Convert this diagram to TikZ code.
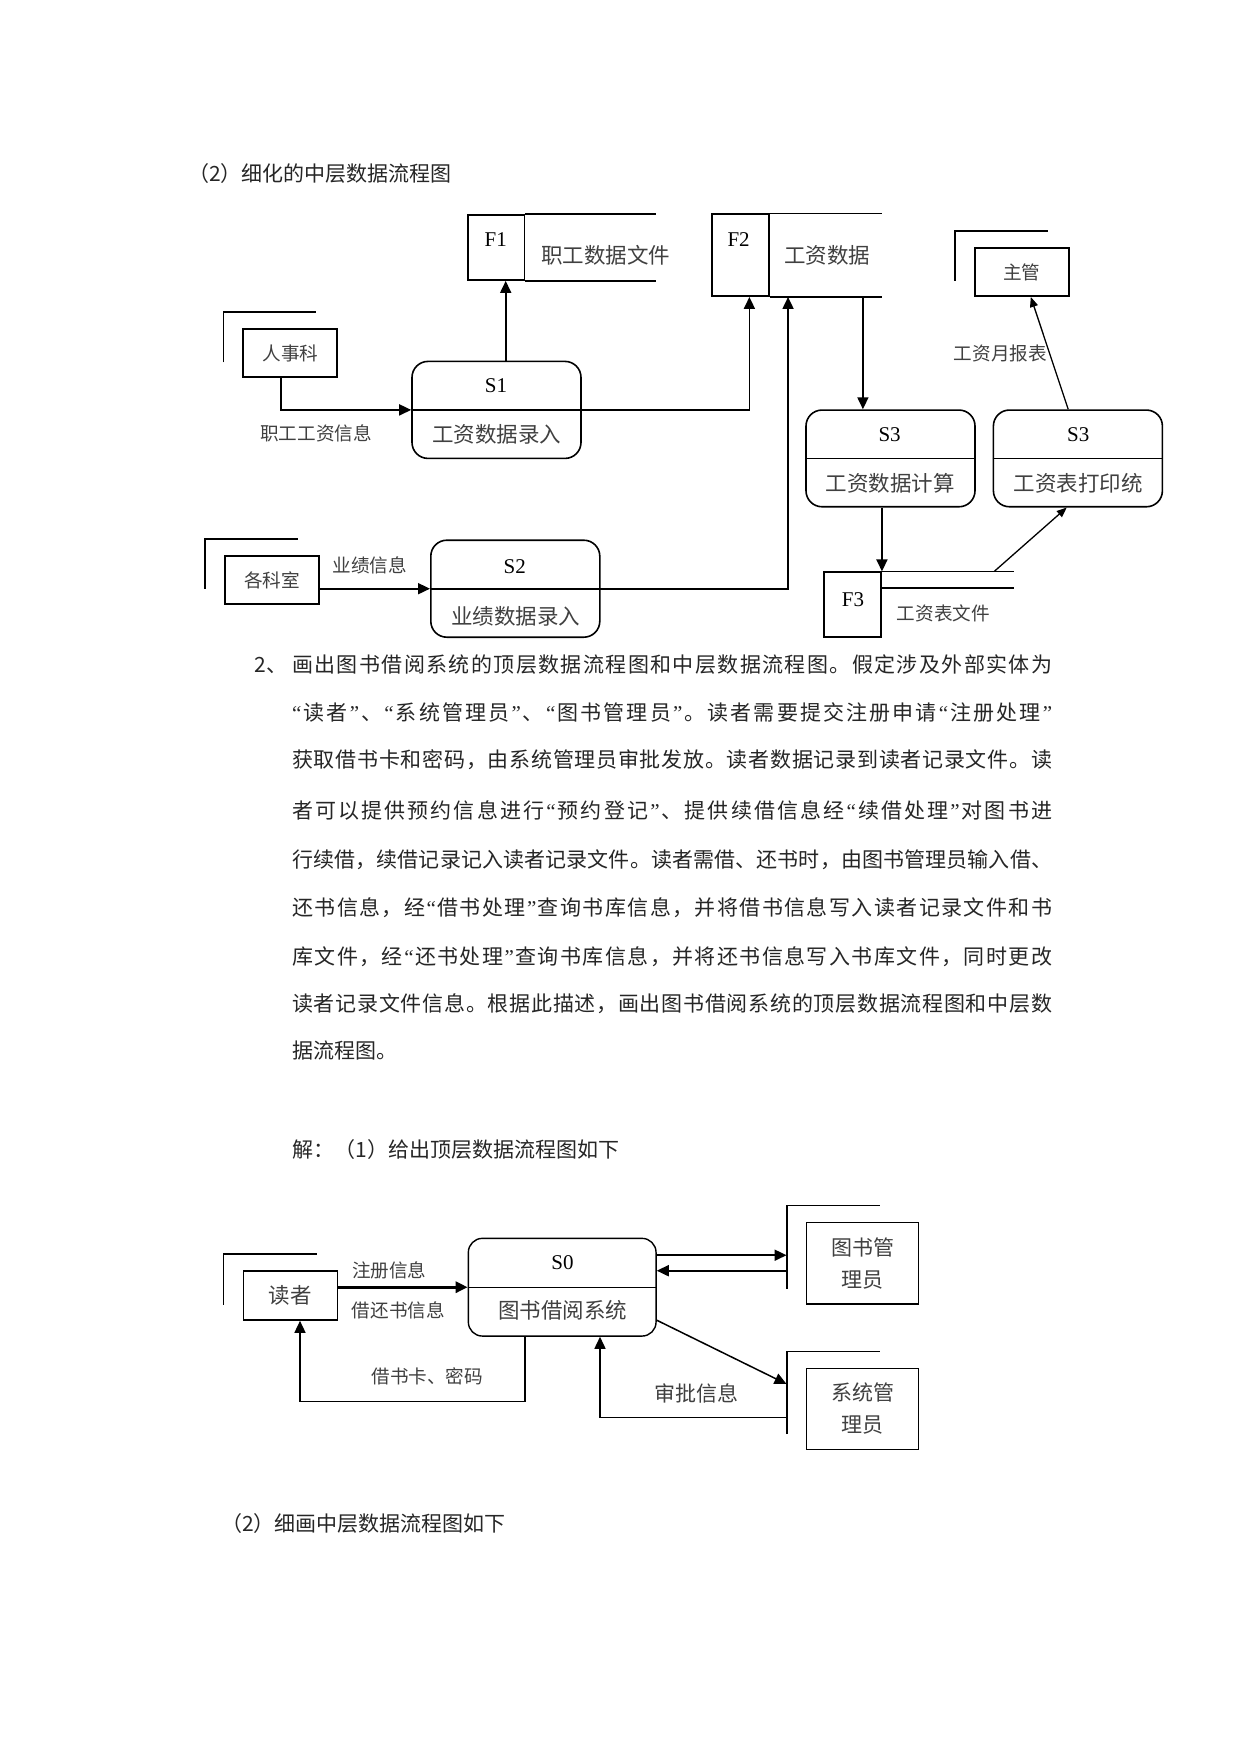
\documentclass[tikz,border=0pt]{standalone}
\usepackage{fontspec}
\setmainfont{Noto Sans CJK SC}
\newfontfamily\romfont{Liberation Serif}
\usetikzlibrary{arrows.meta, positioning, calc}
\newcommand{\dfdbody}{\fontsize{21pt}{25pt}\selectfont}
\newcommand{\dfdbig}{\fontsize{21.5pt}{26pt}\selectfont}
\newcommand{\dfdsmall}{\fontsize{18.6pt}{22pt}\selectfont}
\newcommand{\dfdtwo}{\fontsize{21pt}{31.7pt}\selectfont}
\newcommand{\dfdnum}{\romfont\fontsize{21pt}{25pt}\selectfont}
\newcommand{\qopen}{{\romfont “}}
\newcommand{\qclose}{{\romfont ”}}
% one justified text line: equal glue between all characters
\makeatletter
\newcommand{\spreadline}[1]{\makebox[760pt][s]{\@tfor\dfdc:=#1\do{\dfdc\hskip 0pt plus 1fil}\unskip}}
\makeatother

\begin{document}
\begin{tikzpicture}[x=1pt, y=-1pt,
    proc/.style={draw, rounded corners=16pt, line width=1.6pt, minimum width=169pt, minimum height=97pt, inner sep=0pt},
    store/.style={draw, line width=1.8pt, minimum width=56.5pt, inner sep=0pt},
    ent/.style={draw, line width=1.8pt, minimum width=94pt, minimum height=48.3pt, inner sep=0pt, align=center, font=\dfdsmall, text=black!75},
    shade/.style={line width=1.6pt},
    flow/.style={line width=1.8pt, -{Triangle[length=12pt,width=11pt]}},
    thinflow/.style={line width=1.3pt, -{Triangle[length=10pt,width=8pt]}},
    lbl/.style={font=\dfdsmall, text=black!75, inner sep=0pt},
    big/.style={font=\dfdbig, text=black!75, inner sep=0pt},
    num/.style={font=\dfdnum, inner sep=0pt},
    bodyline/.style={font=\dfdbody, anchor=west, inner sep=0pt, text=black!85}]
    \path[fill=white, use as bounding box] (0,0) rectangle (1241,1754);
    % headings
    \node[bodyline] (h1) at (188,174) {（2）细化的中层数据流程图};
    \node[bodyline] (h2) at (292.7,1149.3) {解：（1）给出顶层数据流程图如下};
    \node[bodyline] (h3) at (221,1523.3) {（2）细画中层数据流程图如下};
    % task text
    \node[bodyline] (p0) at (254.6,665) {2、};
    \node[bodyline] (p1) at (292,665) {\spreadline{画出图书借阅系统的顶层数据流程图和中层数据流程图。假定涉及外部实体为}};
    \node[bodyline] (p2) at (292,712) {\spreadline{\qopen 读者\qclose 、\qopen 系统管理员\qclose 、\qopen 图书管理员\qclose 。读者需要提交注册申请\qopen 注册处理\qclose}};
    \node[bodyline] (p3) at (292,760) {\spreadline{获取借书卡和密码，由系统管理员审批发放。读者数据记录到读者记录文件。读}};
    \node[bodyline] (p4) at (292,810) {\spreadline{者可以提供预约信息进行\qopen 预约登记\qclose 、提供续借信息经\qopen 续借处理\qclose 对图书进}};
    \node[bodyline] (p5) at (292,860) {\spreadline{行续借，续借记录记入读者记录文件。读者需借、还书时，由图书管理员输入借、}};
    \node[bodyline] (p6) at (292,908) {\spreadline{还书信息，经\qopen 借书处理\qclose 查询书库信息，并将借书信息写入读者记录文件和书}};
    \node[bodyline] (p7) at (292,957) {\spreadline{库文件，经\qopen 还书处理\qclose 查询书库信息，并将还书信息写入书库文件，同时更改}};
    \node[bodyline] (p8) at (292,1004) {\spreadline{读者记录文件信息。根据此描述，画出图书借阅系统的顶层数据流程图和中层数}};
    \node[bodyline] (p9) at (292,1051) {据流程图。};

    % external entities
    \node[ent] (rsk) at (290.3,353.2) {人事科};
    \node[ent, minimum width=94.7pt] (gks) at (272,579.9) {各科室};
    \node[ent] (zg) at (1021.8,271.9) {主管};
    \node[ent, font=\dfdbig, minimum height=49.3pt, line width=1.5pt] (dz) at (290.3,1295.4) {读者};
    \node[ent, font=\dfdtwo, minimum width=111.6pt, minimum height=81.7pt, line width=1.5pt] (tsg) at (862.5,1263.2) {图书管\\理员};
    \node[ent, font=\dfdtwo, minimum width=111.6pt, minimum height=81pt, line width=1.5pt] (xtg) at (862.5,1408.8) {系统管\\理员};
    \foreach \e in {rsk,gks,zg}
      \draw[shade] ([shift={(-19pt,16pt)}]\e.south west) |- ([shift={(74pt,16pt)}]\e.north west);
    \foreach \e in {dz,tsg,xtg}
      \draw[shade, line width=1.2pt] ([shift={(-19pt,16pt)}]\e.south west) |- ([shift={(74pt,16pt)}]\e.north west);

    % data stores
    \node[store, minimum height=65pt] (f1) at (496.2,247.5) {};
    \node[store, minimum height=81.7pt] (f2) at (740.4,255.2) {};
    \node[store, minimum height=65pt, minimum width=56.7pt] (f3) at (852.7,604.8) {};
    \draw[line width=1.8pt] (f1.north east) -- ++(131,0) (f1.south east) -- ++(131,0);
    \draw[line width=1.8pt] (f2.north east) -- ++(112.1,0) (f2.south east) -- ++(112.1,0);
    \draw[line width=1.8pt] (f3.north east) -- ++(132.3,0) ([yshift=-16.7pt]f3.north east) -- ++(132.3,0);
    \node[num] (f1id) at (495.8,240) {F1};
    \node[big] (f1txt) at (605.8,255) {职工数据文件};
    \node[num] (f2id) at (738.6,240) {F2};
    \node[big] (f2txt) at (827,255) {工资数据};
    \node[num] (f3id) at (853,600) {F3};
    \node[lbl] (f3txt) at (943.3,613.3) {工资表文件};

    % processes
    \node[proc] (s1) at (496.5,409.9) {};
    \node[proc] (s2) at (515.3,588.7) {};
    \node[proc, minimum height=96.7pt] (s3c) at (890.5,458.4) {};
    \node[proc, minimum height=96.7pt] (s3p) at (1077.9,458.4) {};
    \node[proc, minimum width=187.7pt, minimum height=97.7pt, rounded corners=14pt, line width=1.4pt] (s0) at (562.2,1287.2) {};
    \foreach \p in {s1,s2,s3c,s3p}
      \draw[line width=1.6pt] (\p.west) -- (\p.east);
    \draw[line width=1.4pt] (s0.west) -- (s0.east);
    \node[num] (s1id) at (496,386) {S1};
    \node[big] (s1txt) at (496.7,434) {工资数据录入};
    \node[num] (s2id) at (514.8,566.7) {S2};
    \node[big] (s2txt) at (515.7,616) {业绩数据录入};
    \node[num] (s3cid) at (889.6,435) {S3};
    \node[big] (s3ctxt) at (890.4,483.3) {工资数据计算};
    \node[num] (s3pid) at (1078.2,435) {S3};
    \node[big] (s3ptxt) at (1078,483.3) {工资表打印统};
    \node[num] (s0id) at (562.5,1262.5) {S0};
    \node[big] (s0txt) at (562.7,1310.7) {图书借阅系统};

    % flows, middle level
    \draw[flow] ([xshift=-9.3pt]rsk.south) |- (s1.west);
    \draw[flow] ([xshift=9.2pt]s1.north) -- ([xshift=9.2pt]s1.north |- f1.south);
    \draw[flow] (s1.east) -| ([xshift=9pt]f2.south);
    \draw[flow] (gks.east |- s2.west) -- (s2.west);
    \draw[flow] (s2.east) -| ([xshift=18.5pt]f2.south east);
    \draw[flow] ([xshift=-27.6pt]s3c.north |- f2.south) -- ([xshift=-27.6pt]s3c.north);
    \draw[flow] (f3.north east |- s3c.south) -- (f3.north east);
    \coordinate (f3out) at ([xshift=112.3pt]f3.north east);
    \draw[thinflow] (f3out) -- ([xshift=-11.2pt]s3p.south);
    \draw[thinflow] ([xshift=-9.7pt]s3p.north) -- ([xshift=9pt]zg.south);
    \node[lbl] (l1) at (316,433) {职工工资信息};
    \node[lbl] (l2) at (369.7,565) {业绩信息};
    \node[lbl] (l3) at (1000.4,353.3) {工资月报表};

    % flows, top level
    \coordinate (tsgl) at ([xshift=-19.4pt]tsg.west);
    \coordinate (xtgl) at ([xshift=-19.4pt]xtg.west);
    \draw[flow, line width=3.2pt] (s0.west -| dz.east) -- (s0.west);
    \draw[flow, line width=1.5pt] ([xshift=-37.2pt]s0.south) -- ++(0,64.7) -| ([xshift=9.7pt]dz.south);
    \draw[flow] ([yshift=32pt]s0.east) -- ([yshift=32pt]s0.east -| tsgl);
    \draw[flow] ([yshift=16.5pt]s0.east -| tsgl) -- ([yshift=16.5pt]s0.east);
    \draw[flow, line width=1.5pt] ([yshift=-33pt]s0.east) -- ([yshift=24.8pt]xtgl);
    \draw[flow, line width=1.5pt] ([yshift=-8.5pt]xtgl) -| ([xshift=37.8pt]s0.south);
    \node[lbl] (l4) at (389.3,1270) {注册信息};
    \node[lbl] (l5) at (398.3,1310.7) {借还书信息};
    \node[lbl] (l6) at (427.3,1376) {借书卡、密码};
    \node[lbl, font=\dfdbody] (l7) at (696.7,1393.3) {审批信息};
\end{tikzpicture}
\end{document}
